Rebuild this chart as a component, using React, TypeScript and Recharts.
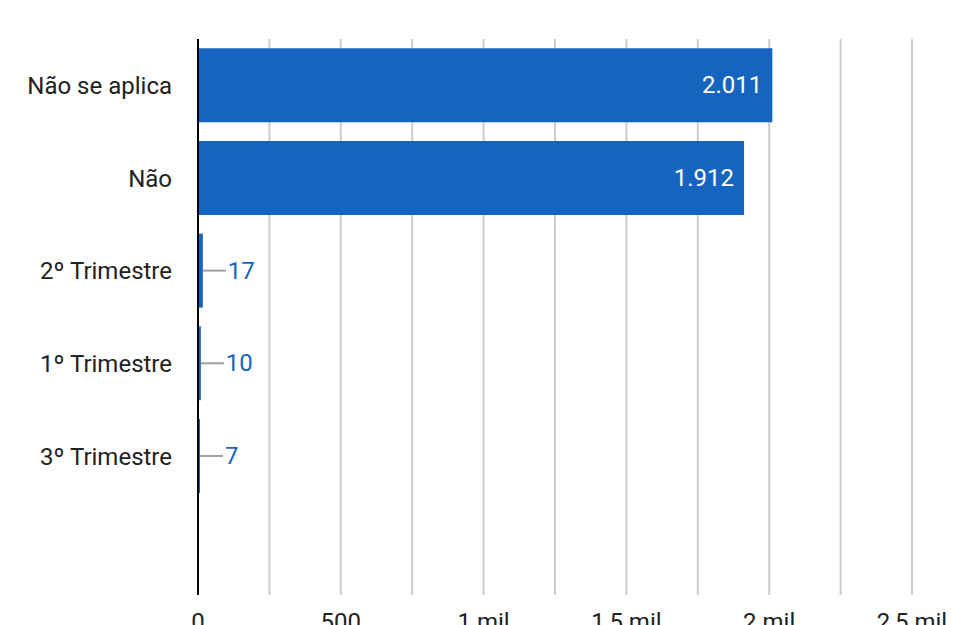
import React from 'react';
import { BarChart, Bar, XAxis, YAxis, CartesianGrid, LabelList } from 'recharts';

const categories = ['Não se aplica', 'Não', '2º Trimestre', '1º Trimestre', '3º Trimestre', ''];
const values: (number | null)[] = [2011, 1912, 17, 10, 7, null];
const xTicks = [0, 250, 500, 750, 1000, 1250, 1500, 1750, 2000, 2250, 2500];

const data = categories.map((c, i) => ({ name: c, value: values[i] }));

const BLUE = '#1565c0';
const FONT = 'Roboto, sans-serif';

function fmtNum(n: number) {
  return n.toLocaleString('pt-BR');
}

function fmtTick(v: number) {
  if (v % 500 !== 0) return '';
  if (v === 0) return '0';
  if (v < 1000) return String(v);
  return `${(v / 1000).toLocaleString('pt-BR')} mil`;
}

function renderLabel(props: any) {
  const { x, y, width, height, value } = props;
  if (value == null) return null;
  const cy = y + height / 2;
  const text = fmtNum(value);
  if (width > 60) {
    return (
      <text x={x + width - 10} y={cy} textAnchor="end" dominantBaseline="central"
        fill="#fff" fontSize={24} fontFamily={FONT}>{text}</text>
    );
  }
  return (
    <g>
      <line x1={x + width} x2={x + width + 23} y1={cy} y2={cy} stroke="#9e9e9e" strokeWidth={2} />
      <text x={x + width + 25} y={cy} textAnchor="start" dominantBaseline="central"
        fill={BLUE} fontSize={24} fontFamily={FONT}>{text}</text>
    </g>
  );
}

export default function App() {
  return (
    <div style={{ position: 'absolute', left: 0, top: 0, width: 970, height: 625, overflow: 'hidden', background: '#fff' }}>
      <BarChart
        width={970}
        height={625}
        data={data}
        layout="vertical"
        margin={{ top: 39, right: 58, bottom: 0, left: 0 }}
        barCategoryGap="10%"
      >
        <CartesianGrid horizontal={false} stroke="#cccccc" strokeWidth={2} />
        <XAxis
          type="number"
          domain={[0, 2500]}
          ticks={xTicks}
          tickFormatter={fmtTick}
          axisLine={false}
          tickLine={false}
          height={30}
          tickMargin={12}
          interval={0}
          tick={{ fontSize: 24, fill: '#222', fontFamily: FONT }}
        />
        <YAxis
          type="category"
          dataKey="name"
          width={198}
          axisLine={{ stroke: '#000', strokeWidth: 2 }}
          tickLine={false}
          tickMargin={20}
          interval={0}
          tick={{ fontSize: 24, fill: '#222', fontFamily: FONT }}
        />
        <Bar dataKey="value" fill={BLUE} isAnimationActive={false}>
          <LabelList dataKey="value" content={renderLabel} />
        </Bar>
      </BarChart>
    </div>
  );
}
